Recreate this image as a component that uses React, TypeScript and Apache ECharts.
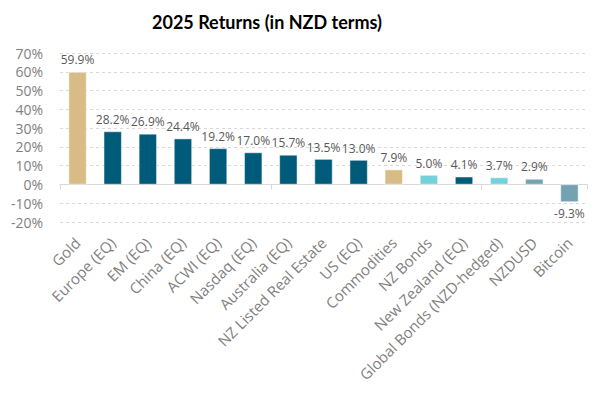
import React, { useEffect, useRef } from "react";
import * as echarts from "echarts";

const categories = [
  "Gold",
  "Europe (EQ)",
  "EM (EQ)",
  "China (EQ)",
  "ACWI (EQ)",
  "Nasdaq (EQ)",
  "Australia (EQ)",
  "NZ Listed Real Estate",
  "US (EQ)",
  "Commodities",
  "NZ Bonds",
  "New Zealand (EQ)",
  "Global Bonds (NZD-hedged)",
  "NZDUSD",
  "Bitcoin",
];
const returns = [59.9, 28.2, 26.9, 24.4, 19.2, 17.0, 15.7, 13.5, 13.0, 7.9, 5.0, 4.1, 3.7, 2.9, -9.3];
const groups = [
  "real", "equity", "equity", "equity", "equity", "equity", "equity", "equity", "equity",
  "real", "bonds", "equity", "bonds", "fx", "fx",
];
const yTicks = [-20, -10, 0, 10, 20, 30, 40, 50, 60, 70];

const groupColor: Record<string, string> = {
  real: "#d8bc86",
  equity: "#005a79",
  bonds: "#74d1dc",
  fx: "#74a2b3",
};

export default function App() {
  const ref = useRef<HTMLDivElement>(null);
  useEffect(() => {
    if (!ref.current) return;
    const chart = echarts.init(ref.current, null, { renderer: "svg" });
    const font = "'Open Sans', 'Noto Sans', sans-serif";
    chart.setOption({
      animation: false,
      backgroundColor: "#ffffff",
      title: {
        text: "2025 Returns (in NZD terms)",
        left: 262,
        top: 8,
        textAlign: "center",
        textStyle: { fontFamily: "Lato, sans-serif", fontWeight: "bold", fontSize: 18, color: "#000000" },
      },
      grid: { left: 60, right: 13, top: 53, bottom: 177, containLabel: false },
      xAxis: [
        {
          type: "category",
          data: categories,
          position: "bottom",
          axisLine: { show: false, onZero: false },
          axisTick: { show: false },
          axisLabel: {
            rotate: 45,
            interval: 0,
            margin: 18,
            fontFamily: font,
            fontSize: 15,
            color: "#7f7f7f",
          },
        },
        {
          type: "category",
          data: categories,
          position: "bottom",
          axisLine: { show: true, onZero: true, lineStyle: { color: "#d9d9d9", width: 1 } },
          axisTick: { show: true, alignWithLabel: false, length: 5, lineStyle: { color: "#d9d9d9" } },
          axisLabel: { show: false },
        },
      ],
      yAxis: {
        type: "value",
        min: yTicks[0],
        max: yTicks[yTicks.length - 1],
        interval: 10,
        axisLine: { show: false },
        axisTick: { show: false },
        axisLabel: {
          formatter: (v: number) => `${v}%`,
          fontFamily: font,
          fontSize: 14,
          lineHeight: 14,
          color: "#7f7f7f",
          margin: 17,
        },
        splitLine: { show: true, lineStyle: { color: "#d9d9d9", type: [3, 3], width: 1 } },
      },
      series: [
        {
          type: "bar",
          xAxisIndex: 0,
          barWidth: "51%",
          data: returns.map((v, i) => ({
            value: v,
            itemStyle: { color: groupColor[groups[i]], borderColor: "#ffffff", borderWidth: 0.5 },
            label: { position: v < 0 ? "bottom" : "top" },
          })),
          label: {
            show: true,
            formatter: (p: any) => `${Number(p.value).toFixed(1)}%`,
            fontFamily: font,
            fontSize: 12,
            color: "#595959",
            distance: 6,
          },
        },
      ],
    });
    return () => chart.dispose();
  }, []);
  return <div ref={ref} style={{ width: 600, height: 399, position: "absolute", left: 0, top: 0 }} />;
}
